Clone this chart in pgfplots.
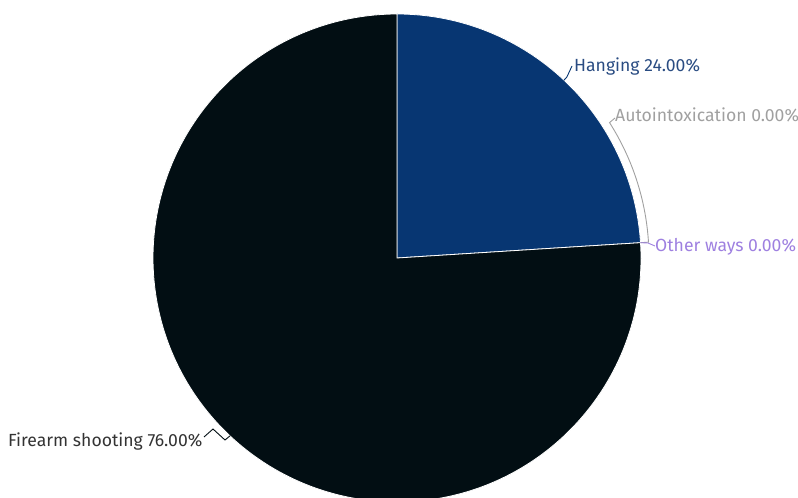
\documentclass[border=0pt]{standalone}
\usepackage{pgfplots}
\usepackage{pgfplotstable}
\pgfplotsset{compat=1.18}
\usepackage{fontspec}
\setmainfont{Fira Sans}
\definecolor{hang}{HTML}{073672}
\definecolor{fire}{HTML}{020E13}
\definecolor{hangtxt}{HTML}{2A4C82}
\definecolor{firetxt}{HTML}{333333}
\definecolor{autotxt}{HTML}{A0A0A0}
\definecolor{othtxt}{HTML}{9E80E0}
\pgfplotstableread{
name value
Hanging 24
Autointoxication 0
Otherways 0
Firearm 76
}\piedata
\begin{document}
\begin{tikzpicture}
\begin{axis}[name=ax, width=798pt, height=498pt, scale only axis,
  xmin=0, xmax=798, ymin=0, ymax=498, hide axis, clip=true]
\pgfplotstablegetelem{0}{value}\of\piedata \edef\vA{\pgfplotsretval}
\pgfplotstablegetelem{1}{value}\of\piedata \edef\vB{\pgfplotsretval}
\pgfplotstablegetelem{2}{value}\of\piedata \edef\vC{\pgfplotsretval}
\pgfplotstablegetelem{3}{value}\of\piedata \edef\vD{\pgfplotsretval}
\pgfmathsetmacro{\aA}{90}
\pgfmathsetmacro{\aB}{\aA-3.6*\vA}
\pgfmathsetmacro{\aC}{\aB-3.6*\vB}
\pgfmathsetmacro{\aD}{\aC-3.6*\vC}
\pgfmathsetmacro{\aE}{\aD-3.6*\vD}
\fill[hang, draw=white, line width=0.8pt] (axis cs:397,240) -- ++(\aA:244pt) arc[start angle=\aA, end angle=\aB, radius=244pt] -- cycle;
\fill[fire, draw=white, line width=0.8pt] (axis cs:397,240) -- ++(\aD:244pt) arc[start angle=\aD, end angle=\aE, radius=244pt] -- cycle;
% leader lines
\pgfmathsetmacro{\mA}{(\aA+\aB)/2}
\pgfmathsetmacro{\mD}{(\aD+\aE)/2}
\draw[hang, line width=0.9pt] (axis cs:397,240) ++(\mA:244pt) -- ++(\mA:4pt) -- (axis cs:572,432);
\draw[autotxt, line width=0.9pt] (axis cs:397,240) ++(\aB:244pt) -- ++(\aB:8pt) arc[start angle=\aB, end angle=32.5, radius=252pt] -- (axis cs:615,380);
\draw[othtxt, line width=0.9pt] (axis cs:397,240) ++(\aC:244pt) -- (axis cs:648,255) -- (axis cs:655,252);
\draw[fire, line width=0.9pt] (axis cs:397,240) ++(\mD:244pt) -- (axis cs:225,58) -- (axis cs:213,69) -- (axis cs:204,61);
% labels
\node[anchor=base west, text=hangtxt, inner sep=0pt, font=\fontsize{17.6}{20}\selectfont] at (axis cs:574,426) {Hanging 24.00\%};
\node[anchor=base west, text=autotxt, inner sep=0pt, font=\fontsize{17.6}{20}\selectfont] at (axis cs:615,376) {Autointoxication 0.00\%};
\node[anchor=base west, text=othtxt, inner sep=0pt, font=\fontsize{17.6}{20}\selectfont] at (axis cs:655,246) {Other ways 0.00\%};
\node[anchor=base west, text=firetxt, inner sep=0pt, font=\fontsize{17.6}{20}\selectfont] at (axis cs:8,51) {Firearm shooting 76.00\%};
\end{axis}
\pgfresetboundingbox
\path (ax.south west) rectangle (ax.north east);
\end{tikzpicture}
\end{document}
